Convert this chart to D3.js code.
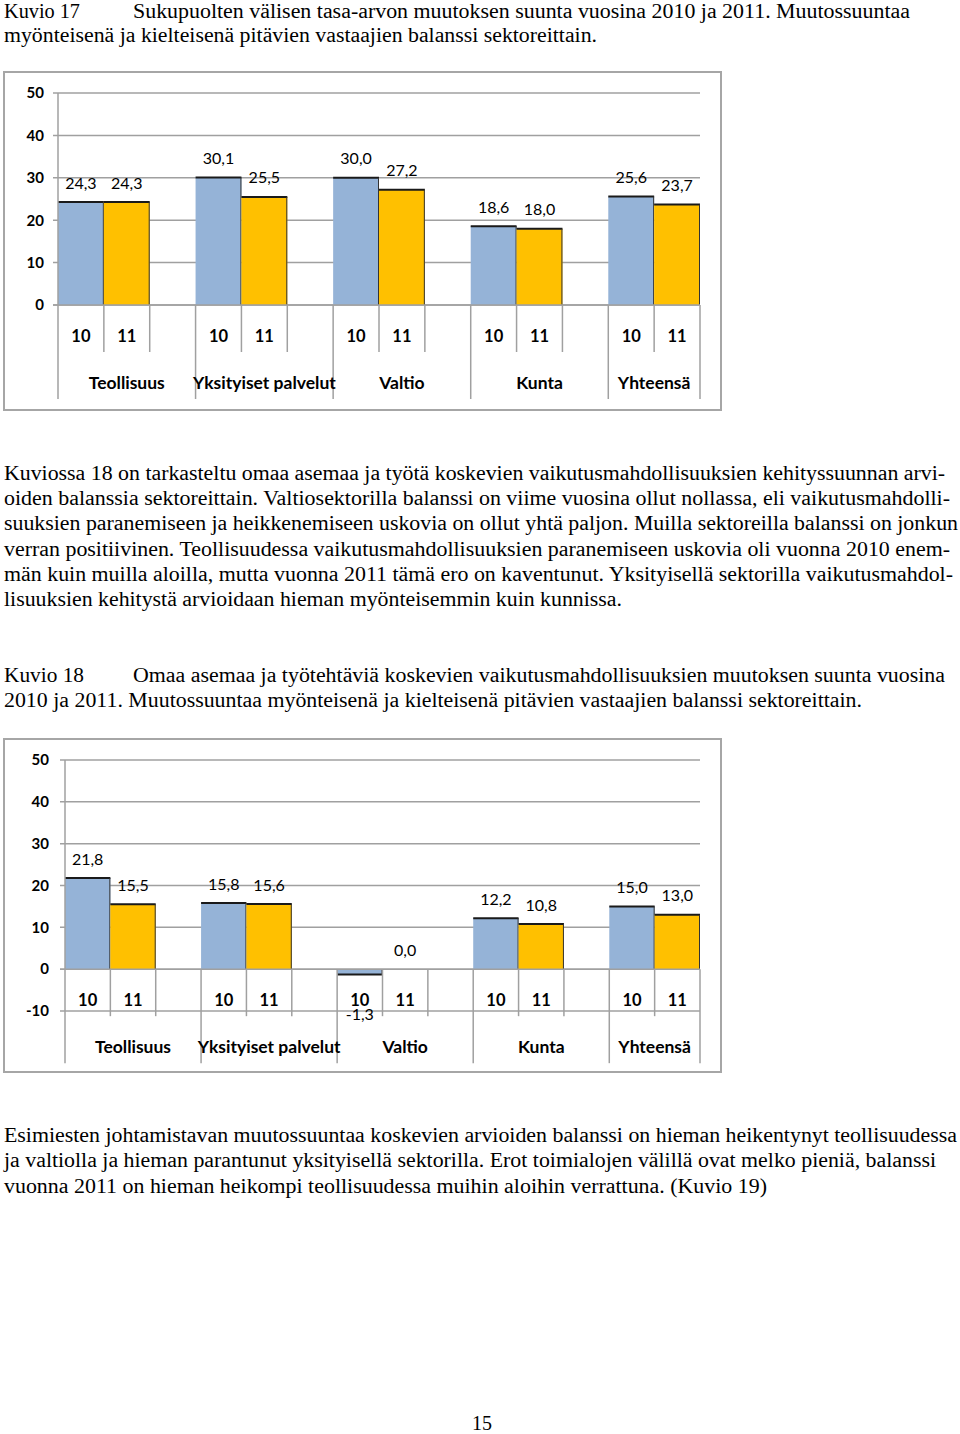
<!DOCTYPE html>
<html><head><meta charset="utf-8">
<script src="https://cdn.jsdelivr.net/npm/d3@7"></script>
<style>body{margin:0;background:#fff}svg{display:block}</style>
</head><body>
<script>
// ---------- data ----------
const sectors = ["Teollisuus","Yksityiset palvelut","Valtio","Kunta","Yhteensä"];
const years = ["10","11"];
const fig17_2010 = [24.3,30.1,30.0,18.6,25.6];
const fig17_2011 = [24.3,25.5,27.2,18.0,23.7];
const fig18_2010 = [21.8,15.8,-1.3,12.2,15.0];
const fig18_2011 = [15.5,15.6,0.0,10.8,13.0];
const ticks17 = [0,10,20,30,40,50];
const ticks18 = [-10,0,10,20,30,40,50];

const title17a = "Kuvio 17";
const title17b = "Sukupuolten välisen tasa-arvon muutoksen suunta vuosina 2010 ja 2011. Muutossuuntaa";
const title17c = "myönteisenä ja kielteisenä pitävien vastaajien balanssi sektoreittain.";
const para1 = [
 "Kuviossa 18 on tarkasteltu omaa asemaa ja työtä koskevien vaikutusmahdollisuuksien kehityssuunnan arvi-",
 "oiden balanssia sektoreittain. Valtiosektorilla balanssi on viime vuosina ollut nollassa, eli vaikutusmahdolli-",
 "suuksien paranemiseen ja heikkenemiseen uskovia on ollut yhtä paljon. Muilla sektoreilla balanssi on jonkun",
 "verran positiivinen. Teollisuudessa vaikutusmahdollisuuksien paranemiseen uskovia oli vuonna 2010 enem-",
 "män kuin muilla aloilla, mutta vuonna 2011 tämä ero on kaventunut. Yksityisellä sektorilla vaikutusmahdol-",
 "lisuuksien kehitystä arvioidaan hieman myönteisemmin kuin kunnissa."
];
const para1W = [941,946,954,946,949,618];
const title18a = "Kuvio 18";
const title18b = "Omaa asemaa ja työtehtäviä koskevien vaikutusmahdollisuuksien muutoksen suunta vuosina";
const title18c = "2010 ja 2011. Muutossuuntaa myönteisenä ja kielteisenä pitävien vastaajien balanssi sektoreittain.";
const para2 = [
 "Esimiesten johtamistavan muutossuuntaa koskevien arvioiden balanssi on hieman heikentynyt teollisuudessa",
 "ja valtiolla ja hieman parantunut yksityisellä sektorilla. Erot toimialojen välillä ovat melko pieniä, balanssi",
 "vuonna 2011 on hieman heikompi teollisuudessa muihin aloihin verrattuna. (Kuvio 19)"
];
const para2W = [953,932,763];

// ---------- page ----------
const svg = d3.select("body").append("svg").attr("width",960).attr("height",1434);
const serif = "'Liberation Serif','Times New Roman',serif";
const sans = "Lato, 'Open Sans', sans-serif";
const fmt = v => d3.format(".1f")(v).replace(".",",").replace("\u2212","-");

function textLine(x, y, s, w, anchor){
  const t = svg.append("text").attr("x",x).attr("y",y).text(s)
    .attr("font-family",serif).attr("font-size",20).attr("fill","#000");
  if (w) t.attr("textLength",w).attr("lengthAdjust","spacingAndGlyphs");
  if (anchor) t.attr("text-anchor",anchor);
  return t;
}
textLine(4,17.5,title17a,76);
textLine(133,17.5,title17b,777);
textLine(4,42,title17c,593);
para1.forEach((s,i)=>textLine(4,480+i*25.2,s,para1W[i]));
textLine(4,682,title18a,80);
textLine(133,682,title18b,812);
textLine(4,707,title18c,858);
para2.forEach((s,i)=>textLine(4,1142+i*25.3,s,para2W[i]));
textLine(482,1430,"15",null,"middle");

// ---------- chart ----------
function chart(opt){
  const g = svg.append("g");
  g.append("rect").attr("x",opt.frame[0]).attr("y",opt.frame[1])
    .attr("width",opt.frame[2]-opt.frame[0]).attr("height",opt.frame[3]-opt.frame[1])
    .attr("fill","#fff").attr("stroke","#a6a6a6").attr("stroke-width",2);

  const slots = [];
  sectors.forEach((s,i)=>{
    slots.push(i+"-10", i+"-11");
    if (i < sectors.length-1) slots.push(i+"-gap");
  });
  const x = d3.scaleBand().domain(slots).range([opt.left,opt.right]).padding(0);
  const y = d3.scaleLinear().domain(opt.domain).range([opt.bottom,opt.top]);
  const y0 = y(0);

  g.selectAll(".grid").data(opt.ticks).join("line")
    .attr("x1",opt.left-5).attr("x2",opt.right)
    .attr("y1",d=>y(d)).attr("y2",d=>y(d))
    .attr("stroke","#a0a0a0").attr("stroke-width",1.5);
  const ya = d3.axisLeft(y).tickValues(opt.ticks).tickSize(0).tickPadding(0)
    .tickFormat(d=>String(d));
  const yg = g.append("g").attr("transform",`translate(${opt.ylabX},0)`).call(ya);
  yg.select(".domain").remove();
  yg.selectAll("text").attr("font-family",sans).attr("font-weight","bold")
    .attr("font-size",15).attr("fill","#000");

  const rows = [];
  sectors.forEach((s,i)=>{
    rows.push({k:i+"-10", v:opt.v10[i], c:"#95b3d7"});
    rows.push({k:i+"-11", v:opt.v11[i], c:"#ffc000"});
  });
  const bars = g.selectAll(".bar").data(rows).join("g");
  bars.append("rect")
    .attr("x",d=>x(d.k)).attr("width",x.bandwidth())
    .attr("y",d=>Math.min(y(d.v),y0)).attr("height",d=>Math.abs(y(d.v)-y0))
    .attr("fill",d=>d.c);
  bars.filter(d=>d.v!==0).append("line")
    .attr("x1",d=>x(d.k)).attr("x2",d=>x(d.k)+x.bandwidth())
    .attr("y1",d=>y(d.v)).attr("y2",d=>y(d.v))
    .attr("stroke","#1a1a1a").attr("stroke-width",2);
  bars.filter(d=>d.v!==0).append("line")
    .attr("x1",d=>x(d.k)+x.bandwidth()-0.5).attr("x2",d=>x(d.k)+x.bandwidth()-0.5)
    .attr("y1",d=>y(d.v)).attr("y2",y0)
    .attr("stroke","#333").attr("stroke-width",1);
  bars.append("text")
    .attr("x",d=>x(d.k)+x.bandwidth()/2)
    .attr("y",d=>d.v<0 ? y(d.v)+40 : y(d.v)-19)
    .attr("dy","0.35em").attr("text-anchor","middle")
    .attr("font-family",sans).attr("font-size",16).attr("fill","#000")
    .text(d=>fmt(d.v));

  g.append("line").attr("x1",opt.left-5).attr("x2",opt.right).attr("y1",y0).attr("y2",y0)
    .attr("stroke","#a0a0a0").attr("stroke-width",1.5);
  g.append("line").attr("x1",opt.left).attr("x2",opt.left)
    .attr("y1",y(opt.domain[1])).attr("y2",y0+94)
    .attr("stroke","#a0a0a0").attr("stroke-width",1.5);

  const bounds = [];
  slots.forEach((s,i)=>{ if(i>0) bounds.push({x:x(s), long: s.endsWith("-10")}); });
  bounds.push({x:opt.right, long:true});
  g.selectAll(".sep").data(bounds).join("line")
    .attr("x1",d=>d.x).attr("x2",d=>d.x)
    .attr("y1",y0).attr("y2",d=>y0+(d.long?94:47))
    .attr("stroke","#a0a0a0").attr("stroke-width",1.5);

  const yl = [];
  sectors.forEach((s,i)=>years.forEach(yr=>yl.push({k:i+"-"+yr, t:yr})));
  g.selectAll(".yr").data(yl).join("text")
    .attr("x",d=>x(d.k)+x.bandwidth()/2).attr("y",y0+31).attr("dy","0.35em")
    .attr("text-anchor","middle").attr("font-family",sans).attr("font-weight","bold")
    .attr("font-size",16.5).attr("fill","#000").text(d=>d.t);
  g.selectAll(".sec").data(sectors).join("text")
    .attr("x",(d,i)=>{
      const a = x(i+"-10");
      const b = i<sectors.length-1 ? x(i+"-gap")+x.bandwidth() : x(i+"-11")+x.bandwidth();
      return (a+b)/2;
    })
    .attr("y",y0+78).attr("dy","0.35em").attr("text-anchor","middle")
    .attr("font-family",sans).attr("font-weight","bold").attr("font-size",17.5)
    .attr("fill","#000").text(d=>d);
}

chart({frame:[4,72,721,410], left:58, right:700, top:93, bottom:305, domain:[0,50],
       ticks:ticks17, ylabX:44, v10:fig17_2010, v11:fig17_2011});
chart({frame:[4,739,721,1072], left:65, right:700, top:760, bottom:1011, domain:[-10,50],
       ticks:ticks18, ylabX:49, v10:fig18_2010, v11:fig18_2011});
</script>
</body></html>
